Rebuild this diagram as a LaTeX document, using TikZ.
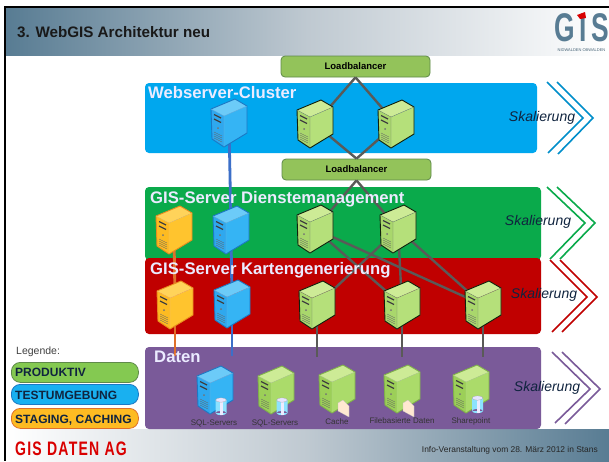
\documentclass[tikz,border=0pt]{standalone}
\usepackage{fontspec}
\setmainfont{Liberation Sans}
\usetikzlibrary{positioning}

% server colours: T top, F front, S side, L outline
\definecolor{grnT}{HTML}{CDEB96}\definecolor{grnF}{HTML}{A9D76C}\definecolor{grnS}{HTML}{B5E07A}\definecolor{grnL}{HTML}{10200C}
\definecolor{sqgT}{HTML}{CDEB96}\definecolor{sqgF}{HTML}{9CCF58}\definecolor{sqgS}{HTML}{ABDB6A}\definecolor{sqgL}{HTML}{7FB04A}
\definecolor{bluT}{HTML}{6CCBF8}\definecolor{bluF}{HTML}{2FA8EE}\definecolor{bluS}{HTML}{35B4F4}\definecolor{bluL}{HTML}{1C78C4}
\definecolor{orgT}{HTML}{FFD35A}\definecolor{orgF}{HTML}{FDBB22}\definecolor{orgS}{HTML}{FFC42E}\definecolor{orgL}{HTML}{E88C1E}
\definecolor{headblue}{HTML}{587C93}
\definecolor{headgrey}{HTML}{BFC9D1}
\definecolor{bandblue}{HTML}{00A7EE}
\definecolor{bandgreen}{HTML}{0AAA4B}
\definecolor{bandred}{HTML}{C00000}
\definecolor{bandpurple}{HTML}{7A5A99}
\definecolor{lbgreen}{HTML}{93C35A}
\definecolor{lbline}{HTML}{5F8A4A}
\definecolor{testblue}{HTML}{3C6FC8}
\definecolor{stageorange}{HTML}{E0702A}
\definecolor{connector}{HTML}{5A5A58}
\definecolor{skalnavy}{HTML}{10243F}

\begin{document}
\begin{tikzpicture}
[x=1pt,y=-1pt,
band/.style={rectangle, rounded corners=4pt, inner sep=0pt, outer sep=0pt, anchor=north west},
bandtitle/.style={anchor=base west, inner sep=0pt, text=white!92!blue, font=\bfseries\fontsize{16.7}{18}\selectfont},
lbbox/.style={rectangle, draw=lbline, fill=lbgreen, thick, rounded corners=4pt,
minimum width=149pt, minimum height=21pt, inner sep=0pt,
font=\bfseries\fontsize{9.5}{10}\selectfont},
legbox/.style={rectangle, thick, rounded corners=9pt, anchor=north west,
minimum width=127pt, minimum height=20pt, inner sep=0pt},
legtext/.style={anchor=base west, inner sep=0pt, text=skalnavy, font=\bfseries\fontsize{12}{13}\selectfont},
skal/.style={inner sep=0pt, text=skalnavy, font=\itshape\fontsize{14}{15}\selectfont},
smalltext/.style={inner sep=0pt, text=black!80, font=\fontsize{8}{9}\selectfont},
line/.style={draw=connector, line width=2.4pt},
testline/.style={draw=testblue, line width=2.8pt},
stageline/.style={draw=stageorange, line width=2.8pt},
chevron/.style={line width=1.6pt},
pics/server/.style={code={
\fill[#1T] (-18,-14) -- (6,-24) -- (18,-17) -- (-5,-7) -- cycle;
\fill[#1F] (-18,-14) -- (-5,-7) -- (-5,24) -- (-17,16) -- cycle;
\fill[#1S] (-5,-7) -- (18,-17) -- (18,10) -- (-5,24) -- cycle;
\draw[#1L, line width=.9pt, line join=round] (-18,-14) -- (6,-24) -- (18,-17) -- (18,10) -- (-5,24) -- (-17,16) -- cycle;
\draw[#1L!60!white, line width=.3pt] (-18,-14) -- (-5,-7) -- (18,-17) (-5,-7) -- (-5,24);
\draw[black!75, line width=1.3pt] (-15,-8.5) -- (-8,-5) (-15,-4) -- (-8,-.5);
\fill[black!55] (-11,5) circle (1pt);
\foreach \k in {10,12,14,16} \draw[black!60, line width=.4pt] (-15,\k-1) -- (-7,\k+3);
}},
pics/dbicon/.style={code={
\fill[blue!25!cyan!45!white] (-5.5,-5) rectangle (5.5,8) (0,8) ellipse (5.5 and 2.2);
\fill[blue!8!white] (-1,-5) rectangle (2,9.5);
\fill[white!90!blue, draw=black!40, line width=.2pt] (0,-5) ellipse (5.5 and 2.2);
}},
pics/docicon/.style={code={
\fill[orange!18!white, draw=black!25, line width=.2pt] (0,0) -- (5,-3) -- (11,3) -- (11,14) -- (0,8) -- cycle;
}}]

% frame, header and footer
\useasboundingbox (0,0) rectangle (609,461);
\fill[white] (0,0) rectangle (609,461);
\shade[left color=headblue, right color=white, middle color=headgrey] (6,8) rectangle (609,55);
\shade[left color=white, right color=headblue, middle color=headgrey] (6,429) rectangle (609,461);
\fill[black] (4,6) rectangle (609,8);
\fill[black] (4,6) rectangle (6,461);
\node[anchor=base west, inner sep=0pt, text=black!90, font=\bfseries\fontsize{15.2}{16}\selectfont] (title) at (17,37) {3. WebGIS Architektur neu};

% logo
\node[anchor=base, inner sep=0pt, xscale=.66, text=headblue, font=\bfseries\fontsize{40}{40}\selectfont] (logo) at (581.5,41.5) {G\kern7pt I\kern7pt S};
\fill[red!85!black] (577,15) -- (585,12) -- (586,18) -- (580,19) -- cycle;
\node[anchor=base, inner sep=0pt, text=headblue!80!black, font=\fontsize{4}{4}\selectfont] (logotext) at (581.5,51.5) {NIDWALDEN OBWALDEN};

% bands
\node[band, fill=bandblue, minimum width=392pt, minimum height=70pt] (webband) at (145,83) {};
\node[band, fill=bandgreen, minimum width=396pt, minimum height=73pt] (gisband) at (145,187) {};
\node[band, fill=bandred, minimum width=396pt, minimum height=76pt] (mapband) at (145,258) {};
\node[band, fill=bandpurple, minimum width=396pt, minimum height=82pt] (databand) at (145,347) {};

% chevrons
\draw[chevron, draw=bandblue!85!black] (547,82) -- (583,118) -- (548,153) (557,82) -- (593,118) -- (558,154);
\draw[chevron, draw=bandgreen] (547,187) -- (585,223) -- (550,259) (557,187) -- (595,223) -- (560,259);
\draw[chevron, draw=bandred] (550,260) -- (587,297) -- (552,332) (560,260) -- (597,297) -- (562,332);
\draw[chevron, draw=bandpurple] (552,352) -- (590,389) -- (555,423) (562,352) -- (600,389) -- (565,424);

% loadbalancers
\node[lbbox] (lbtop) at (355.5,66.5) {Loadbalancer};
\node[lbbox] (lbmid) at (356.5,169.5) {Loadbalancer};

% server positions
\coordinate (webblue) at (229,123);
\coordinate (webone) at (315,124);
\coordinate (webtwo) at (396,124);
\coordinate (gisorange) at (174,230);
\coordinate (gisblue) at (231,230);
\coordinate (gisone) at (315,229);
\coordinate (gistwo) at (398,229);
\coordinate (maporange) at (175,305);
\coordinate (mapblue) at (232,304);
\coordinate (mapone) at (317,305);
\coordinate (maptwo) at (402,305);
\coordinate (mapthree) at (483,305);
\coordinate (sqlblue) at (215,390);
\coordinate (sqlgreen) at (276,390);
\coordinate (cache) at (337,389);
\coordinate (files) at (402,389);
\coordinate (share) at (471,389);
% free ends in the Daten band
\coordinate (endorange) at (175,356);
\coordinate (endblue) at (232,356);
\coordinate (endone) at (317,357);
\coordinate (endtwo) at (402,357);
\coordinate (endthree) at (483,357);

% connectors
\path[line] (lbtop.south) -- (webone);
\path[line] (lbtop.south) -- (webtwo);
\path[line] (lbmid.north) -- (webone);
\path[line] (lbmid.north) -- (webtwo);
\path[line] (lbmid.south) -- (gisone);
\path[line] (lbmid.south) -- (gistwo);
\path[line] (gisone) -- (maptwo);
\path[line] (gisone) -- (mapthree);
\path[line] (gistwo) -- (mapone);
\path[line] (gistwo) -- (maptwo);
\path[line] (gistwo) -- (mapthree);
\path[line] (mapone) -- (endone);
\path[line] (maptwo) -- (endtwo);
\path[line] (mapthree) -- (endthree);
\path[testline] (webblue) -- (gisblue);
\path[testline] (gisblue) -- (mapblue);
\path[testline] (mapblue) -- (endblue);
\path[stageline] (gisorange) -- (maporange);
\path[stageline] (maporange) -- (endorange);

% servers
\foreach \pos in {webone,webtwo,gisone,gistwo,mapone,maptwo,mapthree}
\pic at (\pos) {server=grn};
\foreach \pos in {webblue,gisblue,mapblue,sqlblue}
\pic at (\pos) {server=blu};
\foreach \pos in {gisorange,maporange}
\pic at (\pos) {server=org};
\foreach \pos in {sqlgreen,cache,files,share}
\pic at (\pos) {server=sqg};
\pic at (221,405) {dbicon};
\pic at (282,405) {dbicon};
\pic at (477.5,403) {dbicon};
\pic at (338,403) {docicon};
\pic at (403,403) {docicon};

% band texts
\node[bandtitle] (webtitle) at (148,98) {Webserver-Cluster};
\node[bandtitle] (gistitle) at (150,203) {GIS-Server Dienstemanagement};
\node[bandtitle] (maptitle) at (150,274) {GIS-Server Kartengenerierung};
\node[bandtitle] (datatitle) at (154,362) {Daten};
\node[skal] (skalweb) at (542,118) {Skalierung};
\node[skal] (skalgis) at (538,222) {Skalierung};
\node[skal] (skalmap) at (544,295) {Skalierung};
\node[skal] (skaldata) at (547,388) {Skalierung};
\node[smalltext] (sqlone) at (214,423) {SQL-Servers};
\node[smalltext] (sqltwo) at (275,423) {SQL-Servers};
\node[smalltext] (cachetext) at (337,422) {Cache};
\node[smalltext] (filestext) at (402,421) {Filebasierte Daten};
\node[smalltext] (sharetext) at (471,421) {Sharepoint};

% legend
\node[anchor=base west, inner sep=0pt, text=black!75, font=\fontsize{10.5}{12}\selectfont] (legend) at (16,354) {Legende:};
\node[legbox, draw=lbline, fill=lbgreen!90!green] (legprod) at (11,362) {};
\node[legbox, draw=bluL, fill=bandblue!90!white] (legtest) at (11,384) {};
\node[legbox, draw=stageorange, fill=orgF] (legstage) at (11,408) {};
\node[legtext] (prodtext) at (15,376) {PRODUKTIV};
\node[legtext] (testtext) at (15,399) {TESTUMGEBUNG};
\node[legtext] (stagetext) at (15,423) {STAGING, CACHING};

% footer
\node[anchor=base west, inner sep=0pt, text=red!85!black, xscale=.72, font=\bfseries\fontsize{19.5}{20}\selectfont\addfontfeature{LetterSpace=9}] (company) at (15,455) {GIS DATEN AG};
\node[anchor=base east, inner sep=0pt, text=black!85, font=\fontsize{8.4}{9}\selectfont] (event) at (598,452) {Info-Veranstaltung vom 28. März 2012 in Stans};
\end{tikzpicture}
\end{document}
